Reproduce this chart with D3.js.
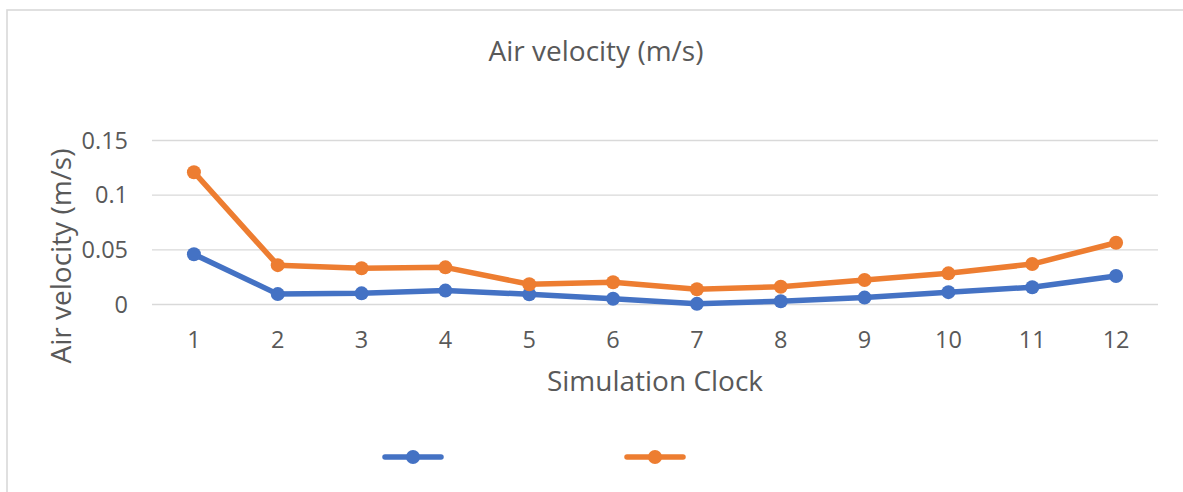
<!DOCTYPE html>
<html>
<head>
<meta charset="utf-8">
<script src="https://cdn.jsdelivr.net/npm/d3@7"></script>
<style>
  html, body { margin: 0; padding: 0; background: #fff; }
  svg { display: block; }
  text { font-family: "Open Sans", "Noto Sans", sans-serif; fill: #595959; }
</style>
</head>
<body>
<svg id="chart" width="1183" height="492"></svg>
<script>
// Simulation clock steps
const categories = ["1", "2", "3", "4", "5", "6", "7", "8", "9", "10", "11", "12"];
// Air velocity readings (m/s) for the two series
const seriesA = [0.046, 0.0095, 0.0102, 0.0127, 0.0094, 0.0052, 0.0006, 0.003, 0.0063, 0.0113, 0.0158, 0.026];
const seriesB = [0.121, 0.036, 0.0331, 0.034, 0.0185, 0.0203, 0.014, 0.0163, 0.0224, 0.0285, 0.037, 0.0565];
const seriesNames = ["", ""];
const seriesColors = ["#4472C4", "#ED7D31"];
const yTicks = [0, 0.05, 0.1, 0.15];

const svg = d3.select("#chart");
const W = 1183, H = 492;
const tickFont = "23.5px";
const titleFont = "28px";

// Chart area frame (extends past the right and bottom edges of the window)
svg.append("rect")
  .attr("x", 7).attr("y", 10)
  .attr("width", W + 20).attr("height", H + 20)
  .attr("fill", "#fff")
  .attr("stroke", "#d9d9d9").attr("stroke-width", 1.6);

const plot = { left: 152, right: 1158, top: 140.5, bottom: 304.5 };

const x = d3.scaleBand().domain(categories).range([plot.left, plot.right]);
const y = d3.scaleLinear().domain([0, 0.15]).range([plot.bottom, plot.top]);

// Title
svg.append("text")
  .attr("x", 596).attr("y", 61)
  .attr("text-anchor", "middle")
  .style("font-size", titleFont)
  .text("Air velocity (m/s)");

// Horizontal gridlines
svg.append("g")
  .selectAll("line")
  .data(yTicks)
  .join("line")
  .attr("x1", plot.left).attr("x2", plot.right)
  .attr("y1", d => y(d)).attr("y2", d => y(d))
  .attr("stroke", "#d9d9d9").attr("stroke-width", 1.3);

// Y axis tick labels
const yAxis = svg.append("g")
  .attr("transform", `translate(${plot.left},0)`)
  .call(d3.axisLeft(y).tickValues(yTicks).tickFormat(d => String(d)).tickSize(0).tickPadding(24));
yAxis.select(".domain").remove();
yAxis.selectAll("text")
  .style("font-size", tickFont)
  .style("font-family", "\"Open Sans\", \"Noto Sans\", sans-serif")
  .attr("fill", "#595959");

// X axis tick labels
const xAxis = svg.append("g")
  .attr("transform", `translate(0,${plot.bottom})`)
  .call(d3.axisBottom(x).tickSize(0).tickPadding(27));
xAxis.select(".domain").remove();
xAxis.selectAll("text")
  .style("font-size", tickFont)
  .style("font-family", "\"Open Sans\", \"Noto Sans\", sans-serif")
  .attr("fill", "#595959");

// Axis titles
svg.append("text")
  .attr("x", (plot.left + plot.right) / 2).attr("y", 391)
  .attr("text-anchor", "middle")
  .style("font-size", titleFont)
  .text("Simulation Clock");

svg.append("text")
  .attr("transform", "translate(71,256) rotate(-90)")
  .attr("text-anchor", "middle")
  .style("font-size", titleFont)
  .text("Air velocity (m/s)");

// Series lines with markers
const cx = (d, i) => x(categories[i]) + x.bandwidth() / 2;
const line = d3.line().x(cx).y(d => y(d));

[seriesA, seriesB].forEach((vals, s) => {
  const g = svg.append("g");
  g.append("path")
    .datum(vals)
    .attr("d", line)
    .attr("fill", "none")
    .attr("stroke", seriesColors[s])
    .attr("stroke-width", 5.5)
    .attr("stroke-linejoin", "round")
    .attr("stroke-linecap", "round");
  g.selectAll("circle")
    .data(vals)
    .join("circle")
    .attr("cx", cx)
    .attr("cy", d => y(d))
    .attr("r", 7)
    .attr("fill", seriesColors[s]);
});

// Legend
const legendX = [385, 627];
seriesNames.forEach((name, s) => {
  const g = svg.append("g").attr("transform", `translate(${legendX[s]},457)`);
  g.append("line")
    .attr("x1", 0).attr("x2", 56).attr("y1", 0).attr("y2", 0)
    .attr("stroke", seriesColors[s]).attr("stroke-width", 5.5)
    .attr("stroke-linecap", "round");
  g.append("circle").attr("cx", 28).attr("cy", 0).attr("r", 7).attr("fill", seriesColors[s]);
  g.append("text").attr("x", 64).attr("y", 8).style("font-size", tickFont).text(name);
});
</script>
</body>
</html>
